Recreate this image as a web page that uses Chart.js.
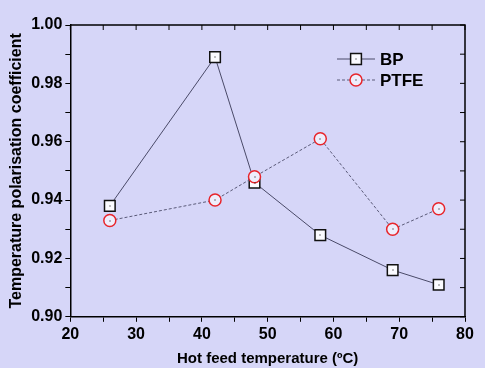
<!DOCTYPE html>
<html>
<head>
<meta charset="utf-8">
<script src="https://cdn.jsdelivr.net/npm/chart.js@4"></script>
<style>
  html, body { margin: 0; padding: 0; background: #d6d6f8; }
  #wrap { width: 485px; height: 368px; }
</style>
</head>
<body>
<div id="wrap"><canvas id="chart"></canvas></div>
<script>
// data
const temps = [26, 42, 48, 58, 69, 76];
const bpValues = [0.938, 0.989, 0.946, 0.928, 0.916, 0.911];
const ptfeValues = [0.933, 0.940, 0.948, 0.961, 0.930, 0.937];
const seriesNames = ['BP', 'PTFE'];

const font = 'Liberation Sans, Arial, Helvetica, sans-serif';

// frame: top/right border with inward ticks, center dots, legend
const extras = {
    id: 'extras',
    afterDatasetsDraw(chart) {
        const ctx = chart.ctx;
        const a = chart.chartArea;
        const xs = chart.scales.x, ys = chart.scales.y;
        ctx.save();
        ctx.strokeStyle = '#000';
        ctx.lineWidth = 1.5;
        ctx.beginPath();
        ctx.moveTo(a.left, a.top);
        ctx.lineTo(a.right, a.top);
        ctx.lineTo(a.right, a.bottom);
        ctx.stroke();
        ctx.lineWidth = 1;
        ctx.beginPath();
        xs.ticks.forEach(t => {
            const px = xs.getPixelForValue(t.value);
            ctx.moveTo(px, a.top);
            ctx.lineTo(px, a.top + 5);
        });
        ys.ticks.forEach(t => {
            const py = ys.getPixelForValue(t.value);
            ctx.moveTo(a.right, py);
            ctx.lineTo(a.right - 5, py);
        });
        ctx.stroke();

        // small dot in the middle of each marker
        ctx.fillStyle = '#000';
        chart.data.datasets.forEach((ds, i) => {
            chart.getDatasetMeta(i).data.forEach(p => {
                ctx.fillRect(Math.round(p.x) - 0.5, Math.round(p.y) - 0.5, 1, 1);
            });
        });

        // legend
        const lx = 337, ly = [59, 80];
        chart.data.datasets.forEach((ds, i) => {
            const y = ly[i];
            ctx.strokeStyle = ds.borderColor;
            ctx.lineWidth = 1;
            ctx.setLineDash(ds.borderDash || []);
            ctx.beginPath();
            ctx.moveTo(lx, y);
            ctx.lineTo(lx + 38, y);
            ctx.stroke();
            ctx.setLineDash([]);
            ctx.fillStyle = ds.pointBackgroundColor;
            ctx.strokeStyle = ds.pointBorderColor;
            ctx.lineWidth = ds.pointBorderWidth;
            const cx = lx + 19, r = ds.pointRadius;
            ctx.beginPath();
            if (ds.pointStyle === 'rect') {
                ctx.rect(cx - r * 0.72, y - r * 0.72, r * 1.44, r * 1.44);
            } else {
                ctx.arc(cx, y, r, 0, Math.PI * 2);
            }
            ctx.fill();
            ctx.stroke();
            ctx.fillStyle = '#000';
            ctx.fillRect(cx - 0.5, y - 0.5, 1, 1);
            ctx.font = 'bold 17px ' + font;
            ctx.textBaseline = 'middle';
            ctx.fillText(ds.label, lx + 43, y + 1);
        });
        ctx.restore();
    }
};

new Chart(document.getElementById('chart'), {
    type: 'line',
    data: {
        datasets: [
            {
                label: seriesNames[0],
                data: temps.map((t, i) => ({ x: t, y: bpValues[i] })),
                borderColor: '#4a4a68',
                borderWidth: 1,
                pointStyle: 'rect',
                pointRadius: 7.5,
                pointBackgroundColor: '#fbfbff',
                pointBorderColor: '#111',
                pointBorderWidth: 1.5,
                order: 1
            },
            {
                label: seriesNames[1],
                data: temps.map((t, i) => ({ x: t, y: ptfeValues[i] })),
                borderColor: '#5a5a78',
                borderWidth: 1,
                borderDash: [3, 2],
                pointStyle: 'circle',
                pointRadius: 6,
                pointBackgroundColor: '#eeeefc',
                pointBorderColor: '#e8252b',
                pointBorderWidth: 1.5,
                order: 0
            }
        ]
    },
    options: {
        responsive: true,
        maintainAspectRatio: false,
        animation: false,
        layout: { padding: { top: 25, right: 20, left: 7, bottom: 0 } },
        plugins: { legend: { display: false }, tooltip: { enabled: false } },
        scales: {
            x: {
                type: 'linear',
                min: 20, max: 80,
                border: { color: '#000', width: 1.5 },
                grid: { drawOnChartArea: false, color: '#000', tickLength: 5, lineWidth: 1 },
                ticks: {
                    stepSize: 5, autoSkip: false, maxRotation: 0, padding: 3,
                    color: '#000', font: { family: font, size: 16, weight: 'bold' },
                    callback: v => (v % 10 === 0 ? String(v) : '')
                },
                title: {
                    display: true, text: 'Hot feed temperature (ºC)', color: '#000',
                    font: { family: font, size: 15, weight: 'bold' }, padding: { top: 3, bottom: 0 }
                }
            },
            y: {
                min: 0.9, max: 1.0,
                border: { color: '#000', width: 1.5 },
                grid: { drawOnChartArea: false, color: '#000', tickLength: 5, lineWidth: 1 },
                ticks: {
                    stepSize: 0.01, autoSkip: false, padding: 3,
                    color: '#000', font: { family: font, size: 16, weight: 'bold' },
                    callback: v => (Math.round(v * 100) % 2 === 0 ? v.toFixed(2) : '')
                },
                title: {
                    display: true, text: 'Temperature polarisation coefficient', color: '#000',
                    font: { family: font, size: 16, weight: 'bold' }, padding: { top: 0, bottom: 2 }
                }
            }
        }
    },
    plugins: [extras]
});
</script>
</body>
</html>
